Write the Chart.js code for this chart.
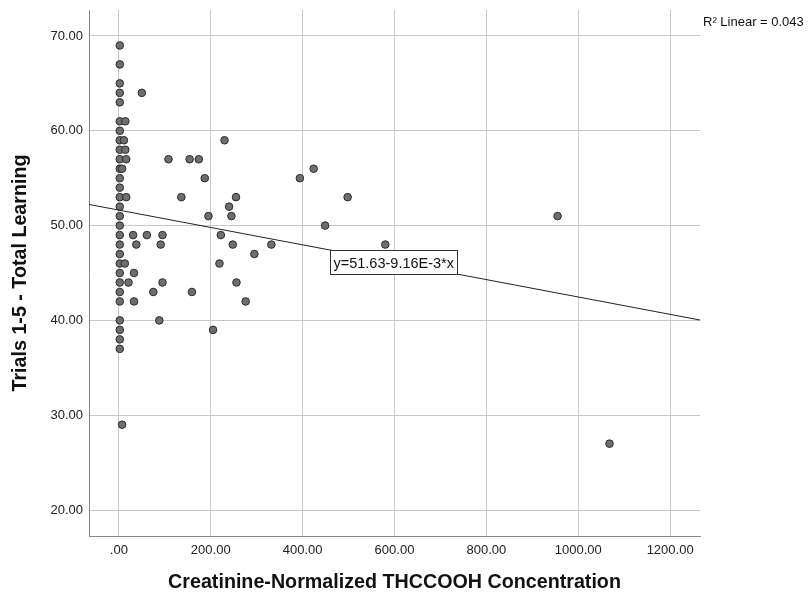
<!DOCTYPE html>
<html><head><meta charset="utf-8">
<script src="https://cdn.jsdelivr.net/npm/chart.js@4/dist/chart.umd.min.js"></script>
<style>html,body{margin:0;padding:0;background:#fff}#wrap{width:809px;height:600px}</style>
</head><body><div id="wrap"><canvas id="c" width="809" height="600"></canvas></div>
<script>
// Creatinine-normalized THCCOOH concentration (x) and Trials 1-5 total learning (y)
const concentration = [
  2,2,2,2,2,2,2,2,2,2,2,2,2,2,2,2,2,2,2,2,2,2,2,2,2,2,2,2,2,
  14,11,14,16,7,16,13,33,21,33,7,50,31,61,95,38,91,75,159,88,95,
  108,154,174,187,136,255,230,240,195,245,222,248,295,219,256,276,205,
  394,424,498,449,332,580,955,1068
];
const totalLearning = [
  69,67,65,64,63,61,60,59,58,57,56,55,54,53,52,51,50,49,48,47,46,45,44,43,42,40,39,38,37,
  61,59,58,57,56,53,46,45,44,42,29,64,49,49,49,48,48,43,43,40,44,
  57,57,57,55,53,53,59,52,51,51,49,48,47,46,44,42,39,
  55,56,53,50,48,48,51,27
];
const xTickValues = [0,200,400,600,800,1000,1200];
const xTickLabels = ['.00','200.00','400.00','600.00','800.00','1000.00','1200.00'];
const yTickValues = [20,30,40,50,60,70];
const yTickLabels = ['20.00','30.00','40.00','50.00','60.00','70.00'];
const fitLineX = [-65, 1265];
const fitLineY = [52.23, 40.04];
const fitLabel = 'y=51.63-9.16E-3*x';
const fitLabelAnchor = {x: 460, y: 47.42};
const r2Label = 'R\u00B2 Linear = 0.043';
const xTitle = 'Creatinine-Normalized THCCOOH Concentration';
const yTitle = 'Trials 1-5 - Total Learning';

const FONT = "'Liberation Sans', Arial, sans-serif";

const labelsPlugin = {
  id: 'labels',
  afterDatasetsDraw(chart) {
    const ctx = chart.ctx;
    const xs = chart.scales.x, ys = chart.scales.y;
    ctx.save();
    ctx.font = '14.5px ' + FONT;
    const tw = ctx.measureText(fitLabel).width;
    const bx = Math.round(xs.getPixelForValue(fitLabelAnchor.x)) + 0.5;
    const by = Math.round(ys.getPixelForValue(fitLabelAnchor.y)) + 0.5;
    const bw = Math.round(tw + 6), bh = 24;
    ctx.fillStyle = '#fff';
    ctx.fillRect(bx, by, bw, bh);
    ctx.strokeStyle = '#333';
    ctx.lineWidth = 1;
    ctx.strokeRect(bx, by, bw, bh);
    ctx.fillStyle = '#111';
    ctx.textAlign = 'left';
    ctx.textBaseline = 'middle';
    ctx.fillText(fitLabel, bx + 3, by + bh / 2 + 1);
    ctx.font = '13px ' + FONT;
    ctx.fillText(r2Label, 703, 22);
    ctx.restore();
  }
};

new Chart(document.getElementById('c'), {
  data: {
    datasets: [
      {
        type: 'scatter',
        data: concentration.map((v, i) => ({x: v, y: totalLearning[i]})),
        backgroundColor: '#6e6e6e',
        borderColor: '#2b2b2b',
        borderWidth: 1,
        pointRadius: 3.8,
        order: 2
      },
      {
        type: 'line',
        data: fitLineX.map((v, i) => ({x: v, y: fitLineY[i]})),
        borderColor: '#222',
        borderWidth: 1,
        pointRadius: 0,
        fill: false,
        order: 1
      }
    ]
  },
  options: {
    responsive: false,
    animation: false,
    devicePixelRatio: 1,
    layout: {padding: {top: 10, right: 109, left: 0, bottom: 0}},
    plugins: {legend: {display: false}, tooltip: {enabled: false}, title: {display: false}},
    scales: {
      x: {
        type: 'linear',
        min: -65, max: 1265,
        afterBuildTicks: s => { s.ticks = xTickValues.map(v => ({value: v})); },
        afterFit: s => { s.height = 64; s.paddingLeft = 0; s.paddingRight = 0; },
        ticks: {
          callback: v => xTickLabels[xTickValues.indexOf(v)],
          font: {family: FONT, size: 13},
          color: '#222',
          padding: 7,
          maxRotation: 0,
          autoSkip: false
        },
        grid: {color: '#c8c8c8', lineWidth: 1, drawTicks: false},
        border: {color: '#888', width: 1},
        title: {display: true, text: xTitle, font: {family: FONT, size: 19.7, weight: 'bold'}, color: '#111', padding: {top: 0, bottom: 6}}
      },
      y: {
        type: 'linear',
        min: 17.26, max: 72.74,
        afterBuildTicks: s => { s.ticks = yTickValues.map(v => ({value: v})); },
        afterFit: s => { s.width = 89; s.paddingTop = 0; s.paddingBottom = 0; },
        ticks: {
          callback: v => yTickLabels[yTickValues.indexOf(v)],
          font: {family: FONT, size: 13},
          color: '#222',
          padding: 6,
          autoSkip: false
        },
        grid: {color: '#c8c8c8', lineWidth: 1, drawTicks: false},
        border: {color: '#888', width: 1},
        title: {display: true, text: yTitle, font: {family: FONT, size: 19.7, weight: 'bold'}, color: '#111', padding: {top: 9, bottom: 0}}
      }
    }
  },
  plugins: [labelsPlugin]
});
</script>
</body></html>
